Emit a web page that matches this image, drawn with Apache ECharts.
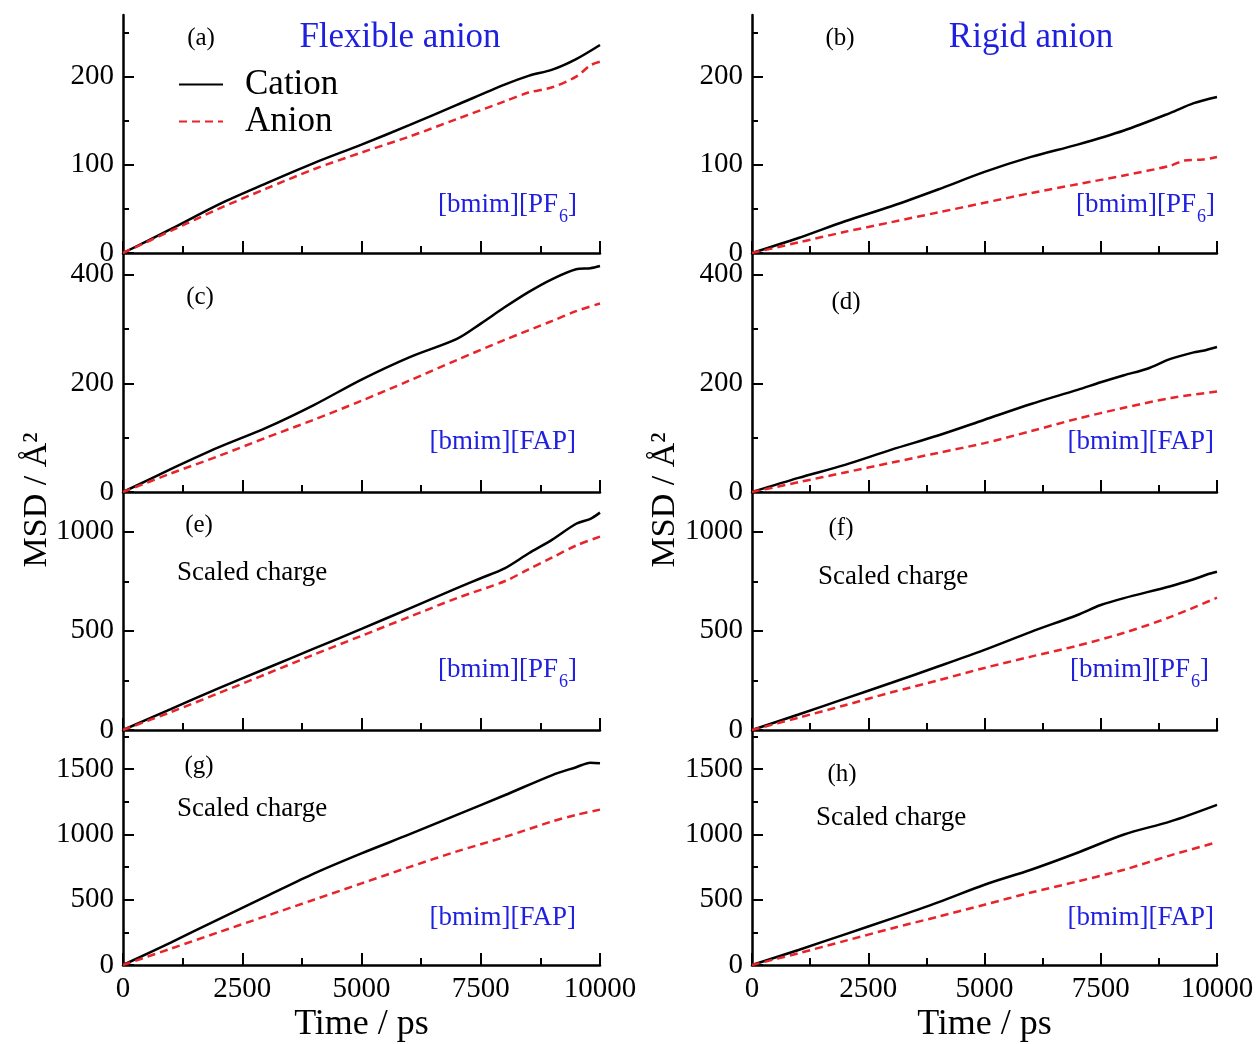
<!DOCTYPE html>
<html><head><meta charset="utf-8">
<script src="https://cdn.jsdelivr.net/npm/echarts@6/dist/echarts.min.js"></script>
<style>html,body{margin:0;padding:0;background:#fff}#c{width:1260px;height:1044px}</style>
</head><body><div id="c"></div>
<script>
// ---------- data (time in ps, MSD in Å^2) ----------
const tA_cat = [0,1000,2000,3000,4000,5000,6000,7000,8000,8500,9000,9500,10000];
const a_cat  = [0,27,55,79,102,123,145,168,191,201,208,220,236];
const tA_an  = [0,1000,2000,3000,4000,5000,6000,7000,8000,8500,9000,9500,9800,10000];
const a_an   = [0,25,50,73,95,114,132,152,172,182,188,200,213,217];

const tB_cat = [0,1000,2000,3000,4000,5000,6000,7000,8000,9000,9500,10000];
const b_cat  = [0,17,36,53,72,92,109,123,139,159,170,177];
const tB_an  = [0,1000,2000,3000,4000,5000,6000,7000,8000,9000,9300,9700,10000];
const b_an   = [0,12,24,35,46,57,68,78,88,99,105,106,109];

const tC_cat = [0,1000,2000,3000,4000,5000,6000,7000,7500,8000,8500,9000,9500,9800,10000];
const c_cat  = [0,42,82,118,160,207,248,282,310,340,368,392,410,412,416];
const tC_an  = [0,1000,2000,3000,4000,5000,6000,7000,8000,9000,9500,10000];
const c_an   = [0,34,66,100,133,168,205,243,280,315,333,347];

const tD_cat = [0,1000,2000,3000,4000,5000,6000,7000,7500,8000,8500,9000,9500,9700,10000];
const d_cat  = [0,26,50,78,104,133,162,188,202,215,227,245,257,260,267];
const tD_an  = [0,1000,2000,3000,4000,5000,6000,7000,8000,9000,10000];
const d_an   = [0,18,36,54,72,90,112,135,155,173,185];

const tE_cat = [0,1000,2000,3000,4000,5000,6000,7000,7500,8000,8500,9000,9500,9800,10000];
const e_cat  = [0,105,210,310,410,510,612,715,765,815,890,960,1040,1065,1096];
const tE_an  = [0,1000,2000,3000,4000,5000,6000,7000,8000,8500,9000,9500,10000];
const e_an   = [0,90,185,282,380,475,570,665,750,810,870,930,975];

const tF_cat = [0,1000,2000,3000,4000,5000,6000,7000,7500,8000,9000,9500,9800,10000];
const f_cat  = [0,78,158,238,320,404,495,580,630,665,725,760,785,798];
const tF_an  = [0,1000,2000,3000,4000,5000,6000,7000,8000,9000,10000];
const f_an   = [0,62,125,190,250,313,370,425,490,570,667];

const tG_cat = [0,1000,2000,3000,4000,5000,6000,7000,8000,9000,9500,9800,10000];
const g_cat  = [0,172,350,525,700,855,1000,1150,1300,1455,1515,1550,1545];
const tG_an  = [0,1000,2000,3000,4000,5000,6000,7000,8000,9000,9500,10000];
const g_an   = [0,125,250,375,500,625,750,870,980,1100,1150,1190];

const tH_cat = [0,1000,2000,3000,4000,5000,6000,7000,8000,9000,10000];
const h_cat  = [0,115,235,355,480,615,730,860,1000,1100,1227];
const tH_an  = [0,1000,2000,3000,4000,5000,6000,7000,8000,9000,10000];
const h_an   = [0,90,185,280,370,462,555,640,730,840,940];

// axis tick values
const yMax   = [270, 440, 1200, 1800];
const yMajor = [[0,100,200],[0,200,400],[0,500,1000],[0,500,1000,1500]];
const yMinor = [[50,150,250],[100,300],[250,750],[250,750,1250,1750]];

const panelLetters = ['(a)','(b)','(c)','(d)','(e)','(f)','(g)','(h)'];
const seriesNames = ['Cation','Anion'];

// ---------- chart ----------
const FONT = "'Liberation Serif','Times New Roman',serif";
const BLUE = '#1f1fe0';
const RED = '#e8232a';
const panels = [
  [tA_cat,a_cat,tA_an,a_an],[tB_cat,b_cat,tB_an,b_an],
  [tC_cat,c_cat,tC_an,c_an],[tD_cat,d_cat,tD_an,d_an],
  [tE_cat,e_cat,tE_an,e_an],[tF_cat,f_cat,tF_an,f_an],
  [tG_cat,g_cat,tG_an,g_an],[tH_cat,h_cat,tH_an,h_an]
];
const rowTop = [15,253,492,730];
const rowH = [238,239,238,239];
const colLeft = [123,752];
const colW = [477,465];
const plain = v => String(v);

const grid=[], xAxis=[], yAxis=[], series=[];
for (let i=0;i<8;i++){
  const r=Math.floor(i/2), c=i%2;
  grid.push({left:colLeft[c], top:rowTop[r], width:colW[c], height:rowH[r], show:false, containLabel:false});
  const bottom = r===3;
  xAxis.push({
    type:'value', gridIndex:i, min:0, max:10000, interval:2500,
    axisLine:{show:true, onZero:false, lineStyle:{color:'#000', width:2.5}},
    axisTick:{show:true, inside:true, length:12, lineStyle:{color:'#000', width:2}},
    minorTick:{show:true, splitNumber:2, length:7, lineStyle:{color:'#000', width:2}},
    splitLine:{show:false}, minorSplitLine:{show:false},
    axisLabel:{show:bottom, fontSize:29, color:'#000', fontFamily:FONT, margin:10, formatter:plain},
    name: bottom ? 'Time / ps' : '', nameLocation:'middle', nameGap:42,
    nameTextStyle:{fontSize:36, color:'#000', fontFamily:FONT}
  });
  yAxis.push({
    type:'value', gridIndex:i, min:0, max:yMax[r], position:'left',
    axisLine:{show:true, onZero:false, lineStyle:{color:'#000', width:2.5}},
    axisTick:{show:true, inside:true, length:11, customValues:yMajor[r], lineStyle:{color:'#000', width:2}},
    axisLabel:{show:true, customValues:yMajor[r], fontSize:29, color:'#000', fontFamily:FONT, margin:9, formatter:plain},
    splitLine:{show:false}
  });
}
for (let i=0;i<8;i++){
  const r=Math.floor(i/2);
  yAxis.push({
    type:'value', gridIndex:i, min:0, max:yMax[r], position:'left',
    axisLine:{show:false},
    axisTick:{show:true, inside:true, length:6, customValues:yMinor[r], lineStyle:{color:'#000', width:2}},
    axisLabel:{show:false}, splitLine:{show:false}
  });
}
for (let i=0;i<8;i++){
  const p=panels[i];
  series.push({
    name:seriesNames[0], type:'line', xAxisIndex:i, yAxisIndex:i, symbol:'none', smooth:0.3,
    lineStyle:{color:'#000', width:2.5}, itemStyle:{color:'#000'},
    data:p[0].map((t,k)=>[t,p[1][k]])
  });
  series.push({
    name:seriesNames[1], type:'line', xAxisIndex:i, yAxisIndex:i, symbol:'none', smooth:0.3,
    lineStyle:{color:RED, width:2.5, type:[8,5]}, itemStyle:{color:RED},
    data:p[2].map((t,k)=>[t,p[3][k]])
  });
}

function txt(x,y,text,size,color,align){
  return {type:'text', x:x, y:y, silent:true,
    style:{text:text, fontSize:size, fontFamily:FONT, fill:color, textAlign:align||'center', textVerticalAlign:'middle'}};
}
function richLabel(x,y,parts){
  return {type:'text', x:x, y:y, silent:true,
    style:{text:parts, fontFamily:FONT, fill:BLUE, textAlign:'right', textVerticalAlign:'middle',
      rich:{
        t:{fontSize:27, fontFamily:FONT, fill:BLUE, lineHeight:30, verticalAlign:'top'},
        s:{fontSize:18, fontFamily:FONT, fill:BLUE, lineHeight:18, verticalAlign:'top', padding:[17,0,0,1]}
      }}};
}
const pf6 = '{t|[bmim][PF}{s|6}{t|]}';
const fap = '{t|[bmim][FAP]}';
const letterPos = [[201,38],[840,38],[200,297],[846,302],[199,525],[841,528],[199,766],[842,774]];
const graphic = [];
letterPos.forEach((p,i)=>graphic.push(txt(p[0],p[1],panelLetters[i],25,'#000')));
graphic.push(txt(400,38,'Flexible anion',35,BLUE));
graphic.push(txt(1031,38,'Rigid anion',35,BLUE));
graphic.push(txt(177,573,'Scaled charge',27,'#000','left'));
graphic.push(txt(818,577,'Scaled charge',27,'#000','left'));
graphic.push(txt(177,809,'Scaled charge',27,'#000','left'));
graphic.push(txt(816,818,'Scaled charge',27,'#000','left'));
graphic.push(richLabel(577,206,pf6));
graphic.push(richLabel(1215,206,pf6));
graphic.push(richLabel(577,671,pf6));
graphic.push(richLabel(1209,671,pf6));
graphic.push(richLabel(576,443,fap));
graphic.push(richLabel(1214,443,fap));
graphic.push(richLabel(576,919,fap));
graphic.push(richLabel(1214,919,fap));
[[37,500],[665,500]].forEach(p=>{
  graphic.push({type:'text', x:p[0], y:p[1], rotation:Math.PI/2, silent:true,
    style:{text:'MSD / Å²', fontSize:34, fontFamily:FONT, fill:'#000', textAlign:'center', textVerticalAlign:'middle'}});
});

const chart = echarts.init(document.getElementById('c'), null, {renderer:'canvas'});
chart.setOption({
  animation:false,
  backgroundColor:'#fff',
  grid:grid, xAxis:xAxis, yAxis:yAxis, series:series,
  legend:{
    data:seriesNames, orient:'vertical', left:178, top:67, padding:0, itemGap:2,
    itemWidth:44, itemHeight:14, selectedMode:false,
    itemStyle:{color:'rgba(0,0,0,0)', borderColor:'rgba(0,0,0,0)', borderWidth:0, opacity:0},
    textStyle:{fontSize:35, fontFamily:FONT, color:'#000', padding:[0,0,0,17]}
  },
  graphic:graphic
});
</script></body></html>
